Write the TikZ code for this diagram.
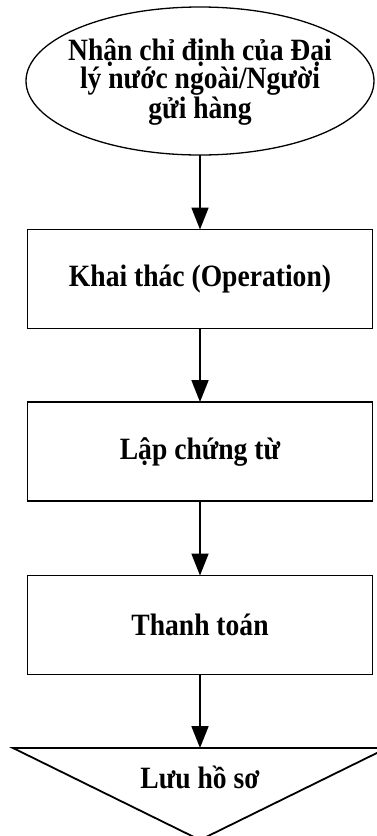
\documentclass[tikz,border=0pt]{standalone}
\usepackage{fontspec}
\setmainfont[FakeStretch=0.89]{Liberation Serif}
\usetikzlibrary{shapes.geometric,arrows.meta}
\begin{document}
\begin{tikzpicture}[x=1pt,y=-1pt,inner sep=0pt,outer sep=0pt,line width=1.8pt,
font=\fontsize{31}{28}\selectfont\bfseries,
procblock/.style={draw,rectangle,minimum width=345pt,minimum height=99pt},
startblock/.style={draw,ellipse,minimum width=348pt,minimum height=148pt,line width=1.3pt},
flow/.style={-{Triangle[length=22pt,width=17pt]}}]
\useasboundingbox (0,0) rectangle (377,836);
\clip (0,0) rectangle (377,836);
\draw (200,81) node[startblock] (nhan) {};
\draw (200,118) node[anchor=base,align=center] (nhantext) {Nhận chỉ định của Đại\\lý nước ngoài/Người\\gửi hàng};
\draw (200,279) node[procblock] (khaithac) {Khai thác (Operation)};
\draw (200,451.5) node[procblock] (lapct) {Lập chứng từ};
\draw (200,625) node[procblock] (thanhtoan) {Thanh toán};
% luu tru
\coordinate (luutop) at (200,748);
\draw (13,748) -- (387,748) -- (200,840) -- cycle;
\draw (200,788) node[anchor=base] (luu) {Lưu hồ sơ};
\draw[flow] (nhan.south) -- (khaithac.north);
\draw[flow] (khaithac.south) -- (lapct.north);
\draw[flow] (lapct.south) -- (thanhtoan.north);
\draw[flow] (thanhtoan.south) -- (luutop);
\end{tikzpicture}
\end{document}
